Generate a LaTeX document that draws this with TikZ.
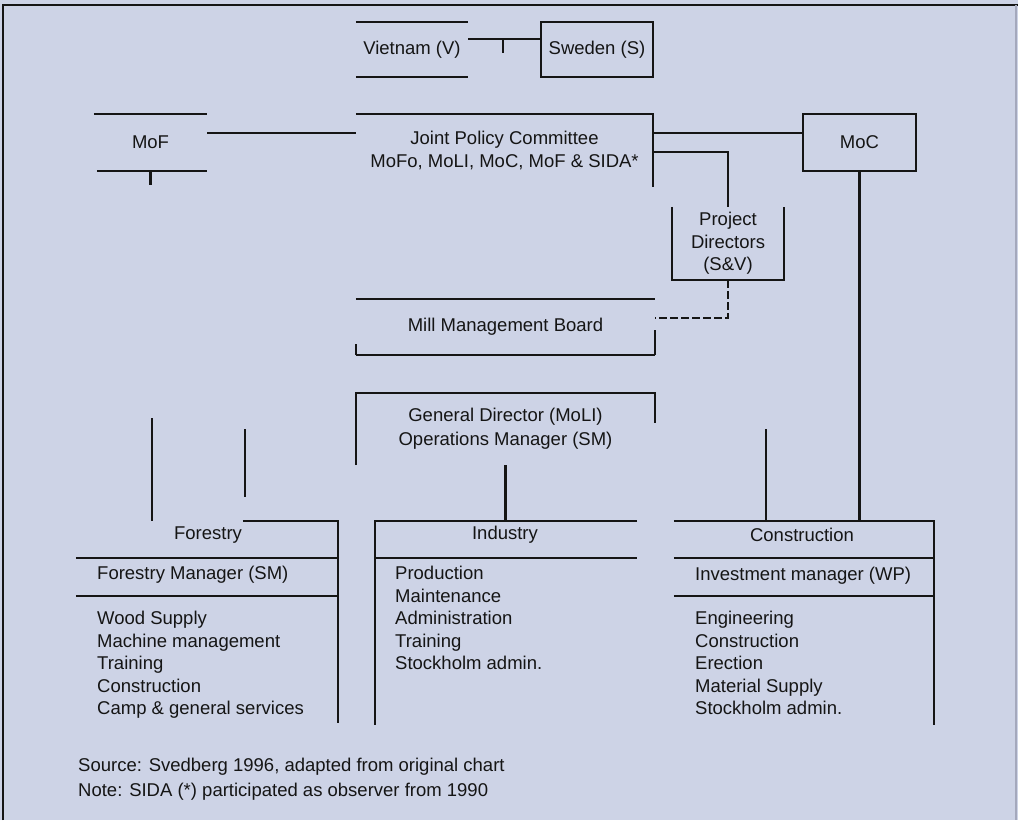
\documentclass[tikz,border=0pt]{standalone}
\usepackage{fontspec}
\setmainfont{Liberation Sans}
\definecolor{bg}{HTML}{CDD3E6}
\definecolor{ink}{HTML}{151515}
\definecolor{frameR}{HTML}{A4A8BC}
\begin{document}
\begin{tikzpicture}[x=1pt,y=-1pt,
  ln/.style={draw=ink,line width=2.2pt,line join=miter},
  lbl/.style={inner sep=0pt,align=center,text=ink,font=\fontsize{18.5}{22.5}\selectfont},
  item/.style={lbl,anchor=base west,align=left},
  boxnode/.style={lbl,minimum width=#1},
]
% background and frame
\fill[bg] (0,0) rectangle (1018,820);
\useasboundingbox (0,0) rectangle (1018,820);
\draw[ink,line width=2pt] (3,820) -- (3,5) -- (1018,5);
\draw[frameR,line width=1.5pt] (1016,5) -- (1016,820);

% top level
\node[boxnode=112pt,minimum height=55pt] (v) at (412,49.5) {Vietnam (V)};
\node[boxnode=112pt,minimum height=55pt] (s) at (597,49.5) {Sweden (S)};
\node[boxnode=113pt,minimum height=57pt] (mofl) at (150.5,142.5) {MoF};
\node[boxnode=297pt,minimum height=73pt] (jpc) at (504.5,150.5) {Joint Policy Committee\\MoFo, MoLI, MoC, MoF \& SIDA*};
\node[boxnode=113pt,minimum height=57pt] (mofr) at (859.5,142.5) {MoC};
\node[boxnode=112pt,minimum height=73pt] (pd) at (728,243.5) {Project\\Directors\\(S\&V)};
\node[boxnode=299pt,minimum height=56pt] (mmb) at (505.5,327) {Mill Management Board};
\node[boxnode=299pt,minimum height=72pt,font=\fontsize{18.5}{24}\selectfont] (gd) at (505.5,429) {General Director (MoLI)\\Operations Manager (SM)};

% department boxes
\node[minimum width=262pt,minimum height=202pt,inner sep=0pt] (fo) at (207,622) {};
\node[minimum width=262pt,minimum height=204pt,inner sep=0pt] (in) at (506,623) {};
\node[minimum width=260pt,minimum height=204pt,inner sep=0pt] (co) at (804,623) {};

% box outlines (as visible)
\draw[ln] (v.north west) -- (v.north east);
\draw[ln] (v.south west) -- (v.south east);
\draw[ln] (s.north west) rectangle (s.south east);
\draw[ln] (mofl.north west) -- (mofl.north east);
\draw[ln] ([xshift=3pt]mofl.south west) -- (mofl.south east);
\draw[ln] (jpc.north west) -- (jpc.north east) -- (jpc.south east);
\draw[ln] (mofr.north west) rectangle (mofr.south east);
\draw[ln] (pd.north west) -- (pd.south west) -- (pd.south east) -- (pd.north east);
\draw[ln] (mmb.north west) -- (mmb.north east);
\draw[ln] (mmb.south west) -- (mmb.south east);
\draw[ln] (mmb.south west) -- ++(0,-11);
\draw[ln] (mmb.south east) -- ++(0,-25);
\draw[ln] (gd.south west) -- (gd.north west) -- (gd.north east) -- ++(0,30);

\draw[ln] ([xshift=167pt]fo.north west) -- (fo.north east) -- (fo.south east);
\draw[ln] ([yshift=-37pt]fo.north west) -- ([yshift=-37pt]fo.north east);
\draw[ln] ([yshift=-75pt]fo.north west) -- ([yshift=-75pt]fo.north east);
\draw[ln] (in.north east) -- (in.north west) -- (in.south west);
\draw[ln] ([yshift=-37pt]in.north west) -- ([yshift=-37pt]in.north east);
\draw[ln] (co.north west) -- (co.north east) -- (co.south east);
\draw[ln] ([yshift=-37pt]co.north west) -- ([yshift=-37pt]co.north east);
\draw[ln] ([yshift=-75pt]co.north west) -- ([yshift=-75pt]co.north east);

% connectors
\draw[ln] ([yshift=10.5pt]v.east) -- ([yshift=10.5pt]s.west);
\coordinate (vt) at (503,39.5);
\draw[ln] (vt) -- ++(0,13);
\draw[ln] ([yshift=9.5pt]mofl.east) -- ([yshift=9.5pt]mofl.east -| jpc.west);
\draw[ln] (mofl.south) -- ++(0,14);
\draw[ln] ([yshift=9.5pt]mofr.west -| jpc.east) -- ([yshift=9.5pt]mofr.west);
\draw[ln] ([yshift=-1.5pt]jpc.east) -| (pd.north);
\draw[ln,dash pattern=on 8pt off 3pt] (pd.south) |- ([yshift=9pt]mmb.east);
\draw[ln] (gd.south) -- (gd.south |- in.north);
\draw[ln] (mofr.south) -- (mofr.south |- co.north);
\coordinate (fa) at (152,418);
\draw[ln] (fa) -- (fa |- fo.north);
\coordinate (fb1) at (245,429);
\coordinate (fb2) at (245,497);
\draw[ln] (fb1) -- (fb2);
\coordinate (ca) at (766,429);
\draw[ln] (ca) -- (ca |- co.north);

% department texts
\node[lbl] (fot) at (208,535) {Forestry};
\node[lbl] (int) at (505,535) {Industry};
\node[lbl] (cot) at (802,535) {Construction};
\node[item] (fom) at (97,579.5) {Forestry Manager (SM)};
\node[item] (com) at (695,580.5) {Investment manager (WP)};
\foreach \t [count=\i from 0] in {Wood Supply, Machine management, Training, Construction, Camp \& general services}
  \node[item] (fl\i) at (97,624.5+22.5*\i) {\t};
\foreach \t [count=\i from 0] in {Production, Maintenance, Administration, Training, Stockholm admin.}
  \node[item] (il\i) at (395,579.5+22.5*\i) {\t};
\foreach \t [count=\i from 0] in {Engineering, Construction, Erection, Material Supply, Stockholm admin.}
  \node[item] (cl\i) at (695,624.5+22.5*\i) {\t};

% footer
\node[item] (src) at (78,771.5) {Source: Svedberg 1996, adapted from original chart};
\node[item] (note) at (78,796.5) {Note: SIDA (*) participated as observer from 1990};
\end{tikzpicture}
\end{document}
